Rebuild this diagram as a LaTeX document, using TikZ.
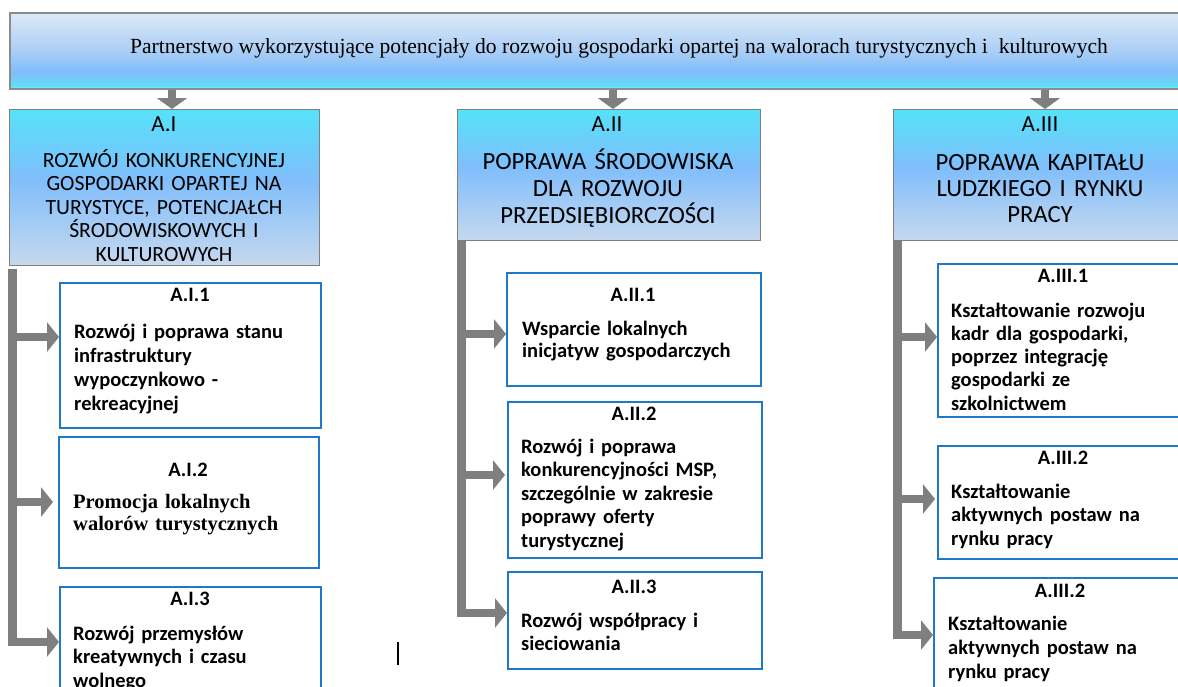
\documentclass[tikz,border=0pt]{standalone}
\usepackage{fontspec}
\setmainfont{Liberation Serif}
\newfontfamily\calfont{Carlito}
\usetikzlibrary{arrows.meta,calc}
\definecolor{arrowgray}{HTML}{7F7F7F}
\definecolor{boxblue}{HTML}{1F78C8}
\definecolor{hdrborder}{HTML}{7F7F7F}
\definecolor{bnborder}{HTML}{8C8C8C}
\definecolor{bnA}{HTML}{BFE9F6}
\definecolor{bnB}{HTML}{5FE0F6}
\definecolor{bnC}{HTML}{6ED2F8}
\definecolor{bnD}{HTML}{80BDFA}
\definecolor{bnE}{HTML}{ABCEF5}
\definecolor{bnF}{HTML}{DDE9F7}
\definecolor{hdA}{HTML}{C6D8EE}
\definecolor{hdB}{HTML}{80BEFB}
\definecolor{hdC}{HTML}{55E2FA}
\pgfdeclareverticalshading{bannershade}{100bp}{color(0bp)=(bnA); color(25bp)=(bnA); color(26.5bp)=(bnB); color(30bp)=(bnC); color(36bp)=(bnD); color(50bp)=(bnE); color(75bp)=(bnF); color(100bp)=(bnF)}
\pgfdeclareverticalshading{headshade}{100bp}{color(0bp)=(hdA); color(25bp)=(hdA); color(53bp)=(hdB); color(75bp)=(hdC); color(100bp)=(hdC)}
\begin{document}
\begin{tikzpicture}[x=1pt,y=-1pt,
  bannerbox/.style={draw=bnborder, line width=1.5pt, shading=bannershade, anchor=north west, inner sep=0pt},
  headbox/.style={draw=hdrborder, line width=1.2pt, shading=headshade, anchor=north west, inner sep=0pt},
  subbox/.style={draw=boxblue, line width=2pt, fill=white, anchor=north west, inner sep=0pt},
  downarrow/.style={draw=arrowgray, line width=8pt, -{Triangle[width=30pt,length=11pt]}},
  sidearrow/.style={draw=arrowgray, line width=8pt, -{Triangle[width=29pt,length=12pt]}},
  vbar/.style={draw=arrowgray, line width=9pt},
  bantext/.style={font=\fontsize{21.6}{25}\selectfont, anchor=base, inner sep=0pt},
  hdtitle/.style={font=\calfont\fontsize{23}{27}\selectfont, anchor=base, inner sep=0pt},
  hdbody/.style={text width=300pt, align=center, anchor=base, inner sep=0pt},
  sbtitle/.style={font=\calfont\bfseries\fontsize{20.5}{24}\selectfont, anchor=base, inner sep=0pt},
  sbbody/.style={text width=245pt, align=left, anchor=base west, inner sep=0pt}
]
\useasboundingbox (0,0) rectangle (1178,686);
\clip (0,0) rectangle (1178,686);
\fill[white] (0,0) rectangle (1178,686);

% banner
\node[bannerbox, minimum width=1185pt, minimum height=76pt] (banner) at (9,12) {};
\node[bantext] (bantxt) at (619,53) {Partnerstwo wykorzystujące potencjały do rozwoju gospodarki opartej na walorach turystycznych i\ \ kulturowych};

% headers
\node[headbox, minimum width=310pt, minimum height=156pt] (hdI) at (9,109) {};
\node[headbox, minimum width=303pt, minimum height=131pt] (hdII) at (457,109) {};
\node[headbox, minimum width=300pt, minimum height=131pt] (hdIII) at (893,109) {};

\coordinate (xI) at (172,0);
\coordinate (xII) at (613,0);
\coordinate (xIII) at (1045,0);
\draw[downarrow] (banner.south -| xI) -- (hdI.north -| xI);
\draw[downarrow] (banner.south -| xII) -- (hdII.north -| xII);
\draw[downarrow] (banner.south -| xIII) -- (hdIII.north -| xIII);

\node[hdtitle] (tI) at (164,131) {A.I};
\node[hdtitle] (tII) at (607,131) {A.II};
\node[hdtitle] (tIII) at (1040,131) {A.III};
\node[hdbody, font=\calfont\fontsize{21.7}{23.5}\selectfont] (bI) at (164,167) {ROZWÓJ KONKURENCYJNEJ\\GOSPODARKI OPARTEJ NA\\TURYSTYCE, POTENCJAŁCH\\ŚRODOWISKOWYCH I\\KULTUROWYCH};
\node[hdbody, font=\calfont\fontsize{24.7}{27}\selectfont] (bII) at (608,169) {POPRAWA ŚRODOWISKA\\DLA ROZWOJU\\PRZEDSIĘBIORCZOŚCI};
\node[hdbody, font=\calfont\fontsize{24.7}{26}\selectfont] (bIII) at (1040,170) {POPRAWA KAPITAŁU\\LUDZKIEGO I RYNKU\\PRACY};

% sub boxes
\node[subbox, minimum width=261pt, minimum height=145pt] (sI1) at (59,282) {};
\node[subbox, minimum width=260pt, minimum height=131pt] (sI2) at (58,436) {};
\node[subbox, minimum width=261pt, minimum height=150pt] (sI3) at (59,586) {};
\node[subbox, minimum width=254pt, minimum height=113pt] (sII1) at (506,272) {};
\node[subbox, minimum width=254pt, minimum height=156pt] (sII2) at (507,401) {};
\node[subbox, minimum width=254pt, minimum height=97pt] (sII3) at (507,571) {};
\node[subbox, minimum width=260pt, minimum height=153pt] (sIII1) at (937,263) {};
\node[subbox, minimum width=260pt, minimum height=113pt] (sIII2) at (937,445) {};
\node[subbox, minimum width=260pt, minimum height=130pt] (sIII3) at (933,577) {};

% bars and branch arrows
\coordinate (barIt) at (12.5,269);
\coordinate (barIb) at (12.5,646);
\coordinate (aI1) at (12.5,337);
\coordinate (aI2) at (12.5,502);
\coordinate (aI3) at (12.5,642);
\draw[vbar] (barIt) -- (barIb);
\draw[sidearrow] (aI1) -- (sI1.west |- aI1);
\draw[sidearrow, shorten >=5pt] (aI2) -- (sI2.west |- aI2);
\draw[sidearrow] (aI3) -- (sI3.west |- aI3);

\coordinate (barIIt) at (461,240);
\coordinate (barIIb) at (461,617);
\coordinate (aII1) at (461,334);
\coordinate (aII2) at (461,475);
\coordinate (aII3) at (461,613);
\draw[vbar] (barIIt) -- (barIIb);
\draw[sidearrow] (aII1) -- (sII1.west |- aII1);
\draw[sidearrow, shorten >=2pt] (aII2) -- (sII2.west |- aII2);
\draw[sidearrow] (aII3) -- (sII3.west |- aII3);

\coordinate (barIIIt) at (897.5,240);
\coordinate (barIIIb) at (897.5,639);
\coordinate (aIII1) at (897.5,337);
\coordinate (aIII2) at (897.5,499);
\coordinate (aIII3) at (897.5,635);
\draw[vbar] (barIIIt) -- (barIIIb);
\draw[sidearrow] (aIII1) -- (sIII1.west |- aIII1);
\draw[sidearrow, shorten >=2pt] (aIII2) -- (sIII2.west |- aIII2);
\draw[sidearrow] (aIII3) -- (sIII3.west |- aIII3);

% sub box titles
\node[sbtitle] (tI1) at (190,301) {A.I.1};
\node[sbtitle] (tI2) at (188,476) {A.I.2};
\node[sbtitle] (tI3) at (190,605) {A.I.3};
\node[sbtitle] (tII1) at (633,301) {A.II.1};
\node[sbtitle] (tII2) at (634,420) {A.II.2};
\node[sbtitle] (tII3) at (634,593) {A.II.3};
\node[sbtitle] (tIII1) at (1063,282) {A.III.1};
\node[sbtitle] (tIII2) at (1063,464) {A.III.2};
\node[sbtitle] (tIII3) at (1060,597) {A.III.2};

% sub box bodies
\node[sbbody, font=\calfont\bfseries\fontsize{20.5}{24}\selectfont] (xbI1) at (74,338) {Rozwój i poprawa stanu\\infrastruktury\\wypoczynkowo -\\rekreacyjnej};
\node[sbbody, font=\bfseries\fontsize{20.5}{22}\selectfont] (xbI2) at (73,508) {Promocja lokalnych\\walorów turystycznych};
\node[sbbody, font=\calfont\bfseries\fontsize{20.5}{23.5}\selectfont] (xbI3) at (73,640) {Rozwój przemysłów\\kreatywnych i czasu\\wolnego};
\node[sbbody, font=\calfont\bfseries\fontsize{20.5}{22.3}\selectfont] (xbII1) at (522,335) {Wsparcie lokalnych\\inicjatyw gospodarczych};
\node[sbbody, font=\calfont\bfseries\fontsize{20.5}{23.5}\selectfont] (xbII2) at (521,453) {Rozwój i poprawa\\konkurencyjności MSP,\\szczególnie w zakresie\\poprawy oferty\\turystycznej};
\node[sbbody, font=\calfont\bfseries\fontsize{20.5}{23}\selectfont] (xbII3) at (521,627) {Rozwój współpracy i\\sieciowania};
\node[sbbody, font=\calfont\bfseries\fontsize{20.5}{23.3}\selectfont] (xbIII1) at (951,317) {Kształtowanie rozwoju\\kadr dla gospodarki,\\poprzez integrację\\gospodarki ze\\szkolnictwem};
\node[sbbody, font=\calfont\bfseries\fontsize{20.5}{23.5}\selectfont] (xbIII2) at (951,498) {Kształtowanie\\aktywnych postaw na\\rynku pracy};
\node[sbbody, font=\calfont\bfseries\fontsize{20.5}{24}\selectfont] (xbIII3) at (948,630) {Kształtowanie\\aktywnych postaw na\\rynku pracy};

% stray cursor mark
\draw[line width=1.2pt, black] (398,642) -- (398,665);
\end{tikzpicture}
\end{document}
